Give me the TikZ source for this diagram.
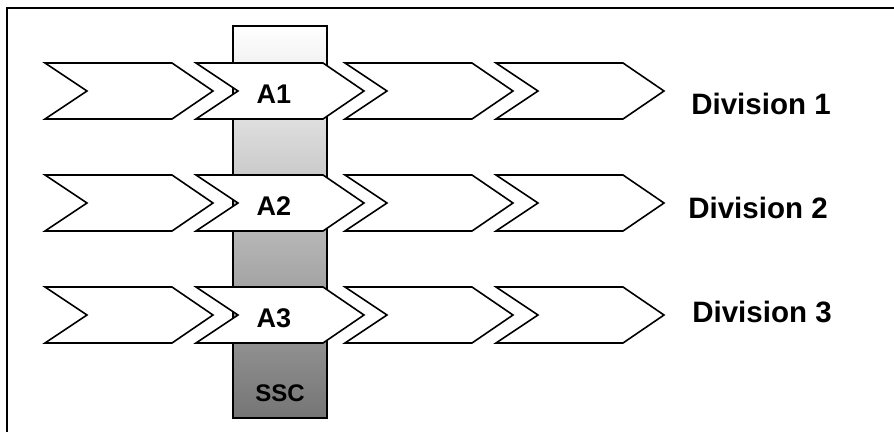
\documentclass[tikz,border=0pt]{standalone}
\usepackage{fontspec}
\setmainfont{Liberation Sans}
\usepackage{tikz}
\usetikzlibrary{positioning}
\tikzset{
  chevron/.style={draw=black,fill=white,line width=1.6pt,line join=miter},
  lbl/.style={font=\bfseries\fontsize{27}{31}\selectfont,inner sep=0pt,anchor=center},
  division/.style={font=\bfseries\fontsize{29.5}{34}\selectfont,inner sep=0pt,anchor=center}
}
% une fleche "chevron" : #1 = bord gauche, #2 = centre vertical
\newcommand{\chevronat}[2]{%
  \draw[chevron](#1,#2-28)--++(127,0)--++(41,28)--++(-41,28)--++(-127,0)--++(42,-28)--cycle;}

\begin{document}
\begin{tikzpicture}[x=1pt,y=-1pt]
\useasboundingbox(0,0)rectangle(894,432);
\fill[white](0,0)rectangle(894,432);
% cadre
\draw[line width=2pt](894,8)--(7,8)--(7,432);
% barre SSC en degrade
\draw[line width=1.6pt,top color=white,middle color=black!18,bottom color=black!54]
  (233,26)rectangle(327,418);
% les trois lignes de chevrons
\foreach \y in {91,203,315}{
  \foreach \x in {45,196,345,496}{
    \chevronat{\x}{\y}
  }
}
\node[lbl](a1) at (274,94) {A1};
\node[lbl](a2) at (274,206) {A2};
\node[lbl](a3) at (274,318) {A3};
\node[font=\bfseries\fontsize{24}{28}\selectfont,inner sep=0pt](ssc) at (280,393) {SSC};
\node[division](div1) at (761,104) {Division 1};
\node[division](div2) at (758,208) {Division 2};
\node[division](div3) at (762,312) {Division 3};
\end{tikzpicture}
\end{document}
